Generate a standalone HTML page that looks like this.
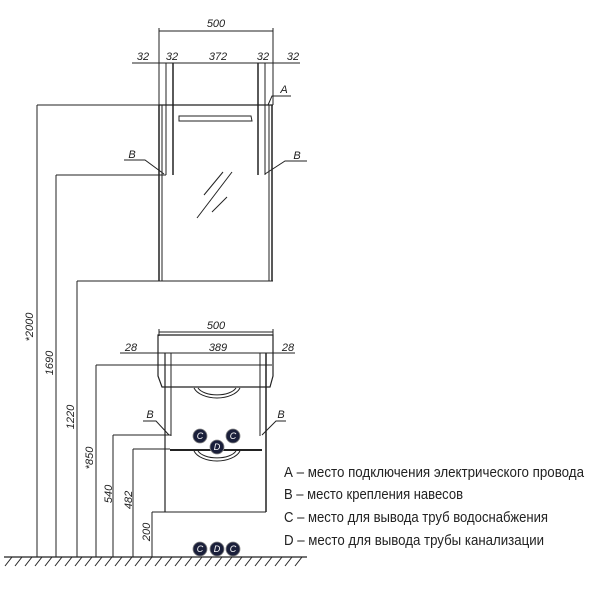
<!DOCTYPE html>
<html><head><meta charset="utf-8"><style>
html,body{margin:0;padding:0;background:#fff;width:600px;height:600px;overflow:hidden}
svg text{font-family:"Liberation Sans Narrow","Liberation Sans",sans-serif;fill:#222}
</style></head><body>
<svg width="600" height="600" viewBox="0 0 600 600" xmlns="http://www.w3.org/2000/svg">
<g stroke="#222" stroke-width="1" fill="none">
<line x1="159" y1="28" x2="159" y2="105"/><line x1="273" y1="28" x2="273" y2="105"/>
<line x1="159" y1="31" x2="273" y2="31"/>
<line x1="132" y1="63" x2="300" y2="63"/>
<line x1="166" y1="63" x2="166" y2="175"/><line x1="173" y1="63" x2="173" y2="175" stroke-width="1.5"/>
<line x1="258" y1="63" x2="258" y2="175" stroke-width="1.5"/><line x1="265" y1="63" x2="265" y2="175"/>
<line x1="159" y1="105" x2="273" y2="105" stroke-width="1.3"/>
<line x1="159" y1="105" x2="159" y2="281" stroke-width="1.5"/><line x1="162" y1="105" x2="162" y2="281"/>
<line x1="269" y1="105" x2="269" y2="281"/><line x1="272" y1="105" x2="272" y2="281" stroke-width="1.5"/>
<line x1="77" y1="281" x2="273" y2="281"/>
<path d="M179 116 H251 L252 121 H179 Z"/>
<line x1="204" y1="195" x2="223" y2="172"/><line x1="197" y1="218" x2="232" y2="172"/><line x1="212" y1="212" x2="227" y2="197"/>
<path d="M268 105 L272 96 H291"/>
<path d="M124 160 H145 L164 174"/><path d="M265 174 L285 161 H307"/>
<line x1="37" y1="105" x2="37" y2="557"/><line x1="37" y1="105" x2="159" y2="105"/>
<line x1="56" y1="175" x2="56" y2="557"/><line x1="56" y1="175" x2="166" y2="175"/>
<line x1="77" y1="281" x2="77" y2="557"/>
<line x1="159" y1="329" x2="159" y2="336"/><line x1="273" y1="329" x2="273" y2="336"/>
<line x1="159" y1="332" x2="273" y2="332"/>
<line x1="120" y1="353" x2="295" y2="353"/>
<path d="M158 335 H273 V376 L270 387 H162 L158 376 Z" stroke-width="1.2"/>
<line x1="165" y1="353" x2="165" y2="512" stroke-width="1.2"/><line x1="171" y1="353" x2="171" y2="436"/>
<line x1="260" y1="353" x2="260" y2="436"/><line x1="266" y1="353" x2="266" y2="512" stroke-width="1.5"/>
<line x1="96" y1="365" x2="272" y2="365"/><line x1="96" y1="365" x2="96" y2="557"/>
<path d="M194 388 A24 14 0 0 0 240 388"/><path d="M198 388 A20 10 0 0 0 236 388"/>
<line x1="170" y1="450" x2="262" y2="450" stroke-width="2"/>
<path d="M194 451 A24 14 0 0 0 240 451"/><path d="M198 451 A20 10 0 0 0 236 451"/>
<line x1="152" y1="512" x2="266" y2="512"/><line x1="152" y1="512" x2="152" y2="557"/>
<line x1="113" y1="435" x2="171" y2="435"/><line x1="113" y1="435" x2="113" y2="557"/>
<line x1="133" y1="449" x2="170" y2="449"/><line x1="133" y1="449" x2="133" y2="557"/>
<path d="M143 421 H156 L169 435"/><path d="M262 435 L276 421 H286"/>
<line x1="4" y1="557" x2="307" y2="557" stroke-width="1.2"/>
</g>
<g stroke="#222" stroke-width="1">
<path d="M12 557 l-7 9 M22 557 l-7 9 M32 557 l-7 9 M42 557 l-7 9 M52 557 l-7 9 M62 557 l-7 9 M72 557 l-7 9 M82 557 l-7 9 M92 557 l-7 9 M102 557 l-7 9 M112 557 l-7 9 M122 557 l-7 9 M132 557 l-7 9 M142 557 l-7 9 M152 557 l-7 9 M162 557 l-7 9 M172 557 l-7 9 M182 557 l-7 9 M192 557 l-7 9 M202 557 l-7 9 M212 557 l-7 9 M222 557 l-7 9 M232 557 l-7 9 M242 557 l-7 9 M252 557 l-7 9 M262 557 l-7 9 M272 557 l-7 9 M282 557 l-7 9 M292 557 l-7 9 M302 557 l-7 9"/>
</g>
<g fill="#1a1f3a" stroke="#888" stroke-width="0.8">
<circle cx="200" cy="436" r="7"/><circle cx="233" cy="436" r="7"/><circle cx="217" cy="447" r="7"/>
<circle cx="200" cy="549" r="7"/><circle cx="217" cy="549" r="7"/><circle cx="233" cy="549" r="7"/>
</g>
<g font-size="9" text-anchor="middle" font-style="italic">
<text x="200" y="439" style="fill:#fff">C</text><text x="233" y="439" style="fill:#fff">C</text><text x="217" y="450" style="fill:#fff">D</text>
<text x="200" y="552" style="fill:#fff">C</text><text x="217" y="552" style="fill:#fff">D</text><text x="233" y="552" style="fill:#fff">C</text>
</g>
<g font-size="11" font-style="italic" text-anchor="middle">
<text x="216" y="27">500</text>
<text x="143" y="60">32</text><text x="172" y="60">32</text><text x="218" y="60">372</text><text x="263" y="60">32</text><text x="293" y="60">32</text>
<text x="284" y="93">A</text><text x="132" y="158">B</text><text x="297" y="159">B</text>
<text x="216" y="329">500</text>
<text x="131" y="351">28</text><text x="218" y="351">389</text><text x="288" y="351">28</text>
<text x="150" y="418">B</text><text x="281" y="418">B</text>
<text transform="translate(33,327) rotate(-90)">*2000</text>
<text transform="translate(53,363) rotate(-90)">1690</text>
<text transform="translate(74,417) rotate(-90)">1220</text>
<text transform="translate(93,458) rotate(-90)">*850</text>
<text transform="translate(112,494) rotate(-90)">540</text>
<text transform="translate(132,500) rotate(-90)">482</text>
<text transform="translate(150,532) rotate(-90)">200</text>
</g>
<g font-size="15">
<text x="284" y="477" textLength="300" lengthAdjust="spacingAndGlyphs">А – место подключения электрического провода</text>
<text x="284" y="499" textLength="179" lengthAdjust="spacingAndGlyphs">В – место крепления навесов</text>
<text x="284" y="522" textLength="264" lengthAdjust="spacingAndGlyphs">С – место для вывода труб водоснабжения</text>
<text x="284" y="545" textLength="260" lengthAdjust="spacingAndGlyphs">D – место для вывода трубы канализации</text>
</g>
</svg>
</body></html>
